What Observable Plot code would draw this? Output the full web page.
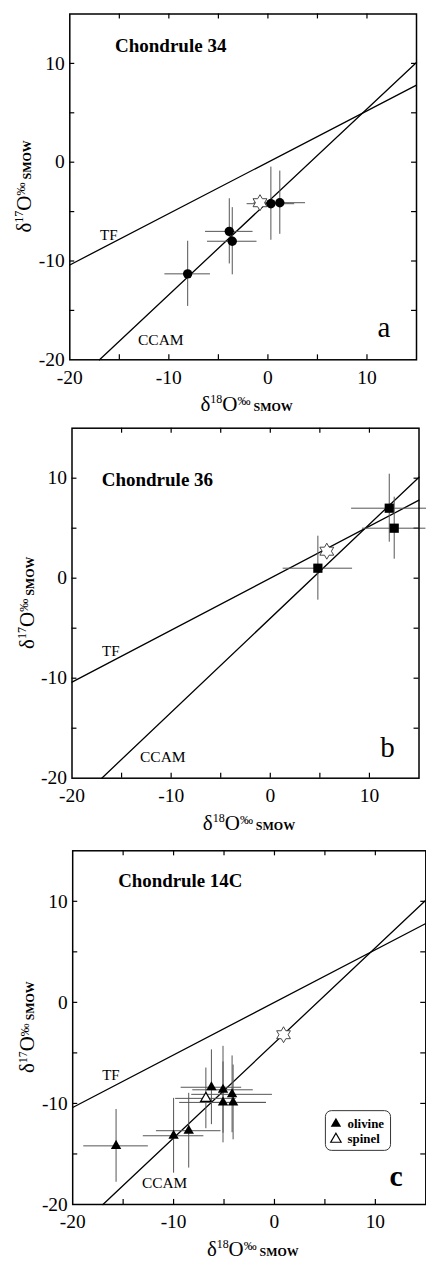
<!DOCTYPE html>
<html><head><meta charset="utf-8">
<script src="https://cdn.jsdelivr.net/npm/d3@7"></script>
<script src="https://cdn.jsdelivr.net/npm/@observablehq/plot@0.6"></script>
<style>
html,body{margin:0;padding:0;background:#fff;overflow:hidden;width:426px;height:1261px;}
.panel{position:absolute;left:0;}
</style></head><body>
<div id="pa" class="panel" style="top:0px"></div>
<div id="pb" class="panel" style="top:410px"></div>
<div id="pc" class="panel" style="top:820px"></div>
<script>
// ---- data ----
const xDomain = [-20, 15];
const yDomain = [-20, 15];
const labelTicks = [-20, -10, 0, 10];
const minorTicks = [-15, -10, -5, 0, 5, 10];

// Terrestrial fractionation line and CCAM line end points
const tfX = [-20, 15];
const tfY = [-10.4, 7.8];
const ccamX = [-17.0, 15];
const ccamY = [-20, 10.1];

// Panel a: Chondrule 34 (circles)
const aX = [-8.1, -3.9, -3.6, 0.3, 1.2];
const aY = [-11.3, -7.0, -8.0, -4.2, -4.1];
const aXErr = [2.3, 2.4, 2.5, 2.4, 2.6];
const aYErr = [3.3, 3.3, 3.4, 3.7, 3.2];
const aStar = [-0.8, -4.1];

// Panel b: Chondrule 36 (squares)
const bX = [4.8, 12.0, 12.5];
const bY = [1.0, 7.0, 5.0];
const bXErr = [3.5, 3.8, 3.2];
const bYErr = [3.2, 3.4, 3.1];
const bStar = [5.7, 2.7];

// Panel c: Chondrule 14C (olivine filled triangles, spinel open triangle)
const cX = [-15.7, -10.0, -8.5, -6.25, -5.1, -4.2, -5.1, -4.1];
const cY = [-14.2, -13.2, -12.7, -8.4, -8.65, -9.1, -9.9, -9.9];
const cXErr = [3.2, 3.0, 3.2, 3.0, 3.0, 4.0, 4.3, 3.3];
const cYErr = [3.6, 3.7, 3.7, 3.7, 4.3, 3.8, 4.0, 3.7];
const spX = [-6.8];
const spY = [-9.5];
const spXErr = [3.0];
const spYErr = [3.0];
const cStar = [0.9, -3.2];

const titles = ["Chondrule 34", "Chondrule 36", "Chondrule 14C"];
const letters = ["a", "b", "c"];
const legendLabels = ["olivine", "spinel"];

// ---- helpers ----
const hexagram = {
  draw(context, size) {
    const R = Math.sqrt(size / Math.PI);
    const r = R / Math.sqrt(3);
    for (let i = 0; i < 12; i++) {
      const a = -Math.PI / 2 + i * Math.PI / 6;
      const rad = i % 2 === 0 ? R : r;
      const x = rad * Math.cos(a), y = rad * Math.sin(a);
      if (i === 0) context.moveTo(x, y); else context.lineTo(x, y);
    }
    context.closePath();
  }
};

const FONT = "'Liberation Serif','DejaVu Serif',serif";
const TL = 0.5;
const TRI_R = 3.9;

function errorMarks(xs, ys, xe, ye) {
  return [
    Plot.ruleY(xs, {y: ys, x1: xs.map((x, i) => x - xe[i]), x2: xs.map((x, i) => x + xe[i]), stroke: "#555", strokeWidth: 1}),
    Plot.ruleX(xs, {x: xs, y1: ys.map((y, i) => y - ye[i]), y2: ys.map((y, i) => y + ye[i]), stroke: "#555", strokeWidth: 1})
  ];
}

function makePanel(cfg) {
  const marks = [
    Plot.ruleX(minorTicks, {x: d => d, y1: yDomain[0], y2: yDomain[0] + TL, stroke: "black", strokeWidth: 1.2}),
    Plot.ruleX(minorTicks, {x: d => d, y1: yDomain[1], y2: yDomain[1] - TL, stroke: "black", strokeWidth: 1.2}),
    Plot.ruleY(minorTicks, {y: d => d, x1: xDomain[0], x2: xDomain[0] + TL, stroke: "black", strokeWidth: 1.2}),
    Plot.ruleY(minorTicks, {y: d => d, x1: xDomain[1], x2: xDomain[1] - TL, stroke: "black", strokeWidth: 1.2}),
    Plot.line(tfX, {x: tfX, y: tfY, stroke: "black", strokeWidth: 1.3}),
    Plot.line(ccamX, {x: ccamX, y: ccamY, stroke: "black", strokeWidth: 1.3}),
    ...cfg.extraBehind,
    ...errorMarks(cfg.xs, cfg.ys, cfg.xe, cfg.ye),
    Plot.dot([cfg.star], {x: d => d[0], y: d => d[1], symbol: hexagram, r: 8, fill: "white", stroke: "#333", strokeWidth: 0.9}),
    Plot.dot(cfg.xs, {x: cfg.xs, y: cfg.ys, symbol: cfg.symbol, r: cfg.r, fill: "black", stroke: "none"}),
    ...cfg.extraFront,
    Plot.frame({stroke: "black", strokeWidth: 1.5})
  ];
  const chart = Plot.plot({
    width: cfg.width, height: cfg.height,
    marginTop: cfg.mt, marginBottom: cfg.mb, marginLeft: cfg.ml, marginRight: cfg.mr,
    style: {fontFamily: FONT, fontSize: "19.5px", background: "transparent", overflow: "visible", color: "black"},
    x: {domain: xDomain, ticks: labelTicks, tickSize: 0, tickPadding: 10, tickFormat: d => String(d), label: null},
    y: {domain: yDomain, ticks: labelTicks, tickSize: 0, tickPadding: 5, tickFormat: d => String(d), label: null},
    marks
  });
  document.getElementById(cfg.id).appendChild(chart);
  const svg = d3.select(chart);
  // all texts so far are the axis tick labels
  svg.selectAll("text").style("font-size", "19.5px").style("font-family", FONT).attr("font-size", null);
  svg.selectAll("g").attr("font-size", null);
  const fl = cfg.ml, fr = cfg.width - cfg.mr, ft = cfg.mt, fb = cfg.height - cfg.mb;

  const txt = (x, y, s, size, weight, anchor) => svg.append("text")
    .attr("x", x).attr("y", y).attr("font-family", FONT).style("font-size", size + "px")
    .attr("font-weight", weight || "normal").attr("text-anchor", anchor || "start").attr("fill", "black").text(s);

  txt(cfg.title[0], cfg.title[1], cfg.titleText, 19, "bold");
  txt(cfg.tf[0], cfg.tf[1], "TF", 15);
  txt(cfg.ccam[0], cfg.ccam[1], "CCAM", 15.5);
  txt(cfg.letter[0], cfg.letter[1], cfg.letterText, cfg.letterSize, cfg.letterWeight, "middle");

  // axis labels
  function axisLabel(g, sup) {
    const t = g.append("text").attr("font-family", FONT).attr("fill", "black").attr("text-anchor", "middle");
    t.append("tspan").style("font-size", "21px").text("δ");
    t.append("tspan").style("font-size", "12px").attr("dy", -8).text(sup);
    t.append("tspan").style("font-size", "21px").attr("dy", 8).text("O");
    t.append("tspan").style("font-size", "13px").attr("dy", -6).text("‰");
    t.append("tspan").style("font-size", "12px").attr("font-weight", "bold").attr("dy", 6).text("\u00a0SMOW");
    return t;
  }
  const gx = svg.append("g").attr("transform", `translate(${(fl + fr) / 2 + 4},${fb + 52})`);
  axisLabel(gx, "18");
  const gy = svg.append("g").attr("transform", `translate(${fl - 38},${(ft + fb) / 2}) rotate(-90)`);
  axisLabel(gy, "17");
  return svg;
}

makePanel({
  id: "pa", width: 426, height: 410, mt: 13.5, mb: 50.7, ml: 69.3, mr: 10,
  xs: aX, ys: aY, xe: aXErr, ye: aYErr, star: aStar, symbol: "circle", r: 4.7,
  extraBehind: [], extraFront: [],
  titleText: titles[0], title: [115, 51.5], tf: [100, 240], ccam: [138, 345],
  letterText: letters[0], letter: [384, 336.5], letterSize: 29, letterWeight: "normal"
});

makePanel({
  id: "pb", width: 426, height: 420, mt: 17.7, mb: 52.3, ml: 71.5, mr: 7.5,
  xs: bX, ys: bY, xe: bXErr, ye: bYErr, star: bStar, symbol: "square", r: 5.2,
  extraBehind: [], extraFront: [],
  titleText: titles[1], title: [101.7, 76], tf: [102, 246], ccam: [140, 352.3],
  letterText: letters[1], letter: [387.6, 346.7], letterSize: 29, letterWeight: "normal"
});

const svgC = makePanel({
  id: "pc", width: 429, height: 441, mt: 30.5, mb: 54.3, ml: 72.7, mr: 0.7,
  xs: cX, ys: cY, xe: cXErr, ye: cYErr, star: cStar, symbol: "triangle", r: TRI_R,
  extraBehind: errorMarks(spX, spY, spXErr, spYErr),
  extraFront: [Plot.dot(spX, {x: spX, y: spY, symbol: "triangle", r: TRI_R, fill: "white", stroke: "black", strokeWidth: 1.2})],
  titleText: titles[2], title: [119, 67.7], tf: [103, 261.7], ccam: [143, 371],
  letterText: letters[2], letter: [399, 368.3], letterSize: 30, letterWeight: "bold"
});

// legend in panel c
const lg = svgC.append("g").attr("text-anchor", "start");
lg.append("rect").attr("x", 327.7).attr("y", 292.7).attr("width", 65.6).attr("height", 40)
  .attr("rx", 6).attr("fill", "white").attr("stroke", "#333").attr("stroke-width", 1);
const triPath = d3.symbol(d3.symbolTriangle, TRI_R * TRI_R * Math.PI)();
lg.append("path").attr("d", triPath).attr("transform", "translate(338.3,306)").attr("fill", "black");
lg.append("path").attr("d", triPath).attr("transform", "translate(338.3,321.5)").attr("fill", "white").attr("stroke", "black").attr("stroke-width", 1.2);
lg.append("text").attr("x", 350).attr("y", 310.5).attr("text-anchor", "start").attr("font-family", FONT).style("font-size", "13px").attr("font-weight", "bold").text(legendLabels[0]);
lg.append("text").attr("x", 350).attr("y", 325.5).attr("text-anchor", "start").attr("font-family", FONT).style("font-size", "13px").attr("font-weight", "bold").text(legendLabels[1]);
</script>
</body></html>
